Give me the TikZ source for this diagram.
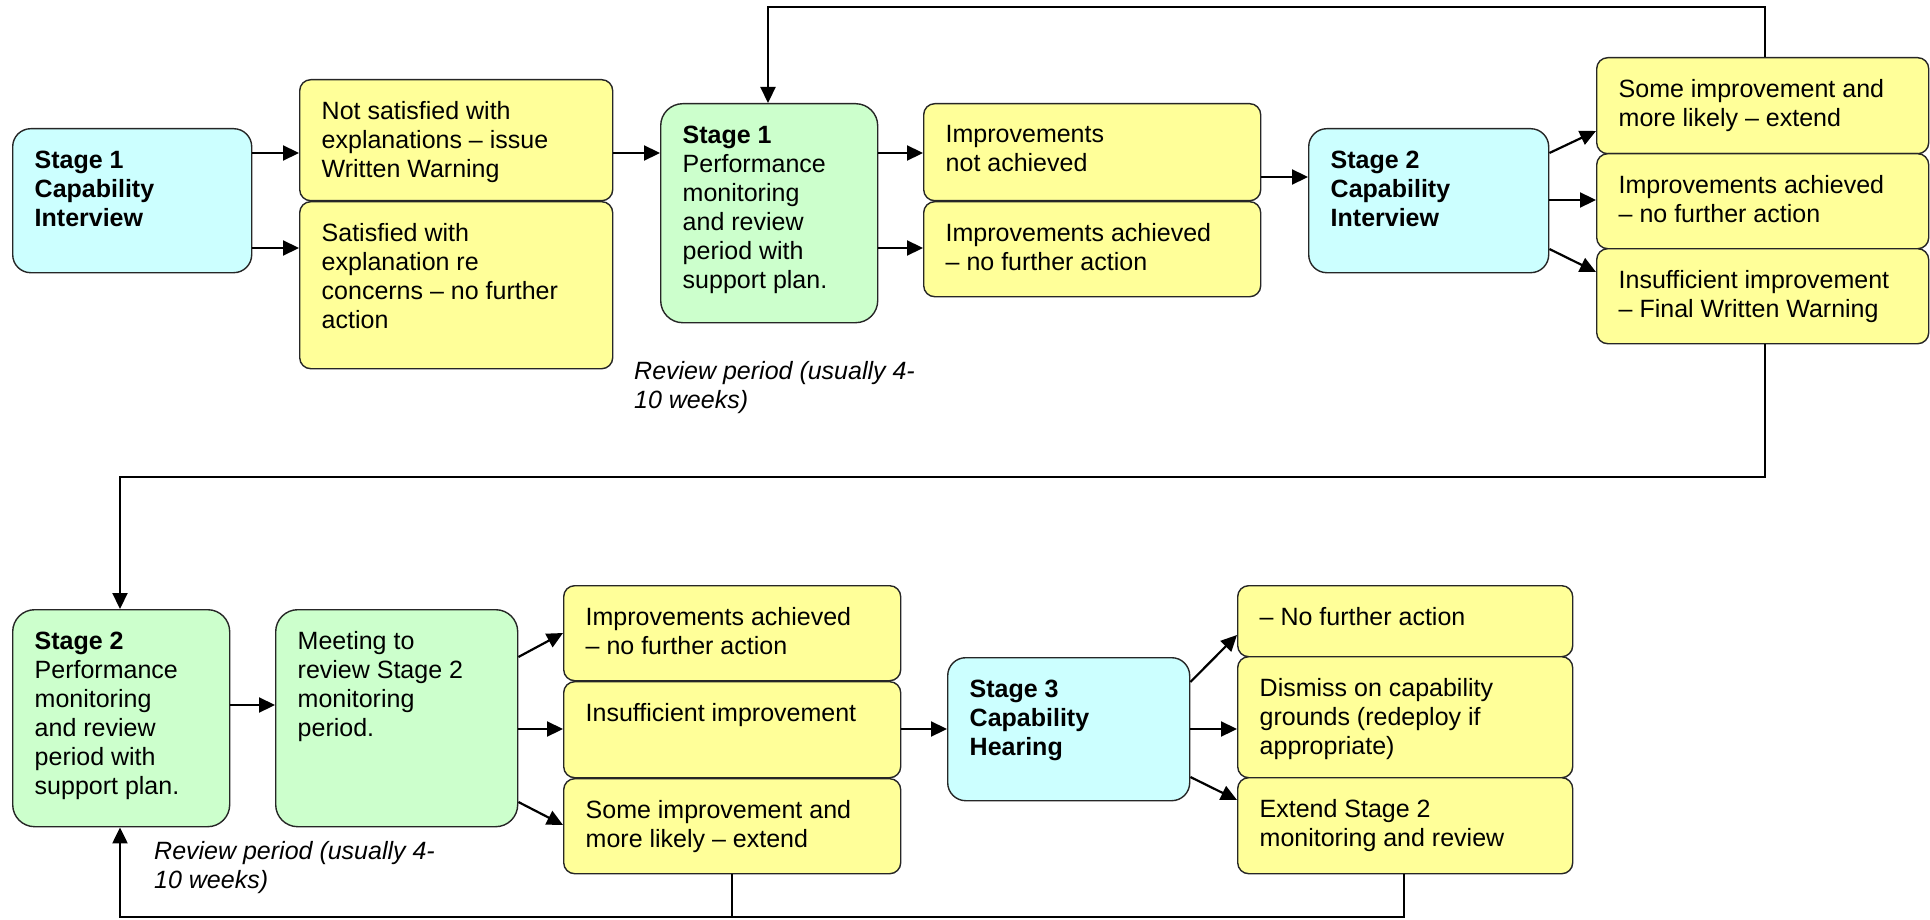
\documentclass[tikz,border=0pt]{standalone}
\usepackage{fontspec}
\setmainfont{Liberation Sans}
\usetikzlibrary{arrows.meta}
\definecolor{cyanbox}{HTML}{CCFFFF}
\definecolor{yellowbox}{HTML}{FFFF99}
\definecolor{greenbox}{HTML}{CCFFCC}
\newcommand{\cellbox}[3]{\parbox[t][\dimexpr#2-44pt\relax][t]{\dimexpr#1-44pt\relax}{\raggedright#3}}

\begin{document}
\begin{tikzpicture}[x=1pt, y=-1pt,
    cell/.style={draw=black!85, line width=1.4pt, anchor=north west, inner xsep=22pt, inner ysep=22pt, font=\fontsize{25}{29}\selectfont},
    interview/.style={cell, fill=cyanbox, rounded corners=18pt},
    outcome/.style={cell, fill=yellowbox, rounded corners=11pt},
    monitor/.style={cell, fill=greenbox, rounded corners=22pt},
    note/.style={anchor=north west, inner sep=0pt, align=left, font=\fontsize{25}{29}\selectfont\itshape},
    flow/.style={line width=2.2pt, -{Triangle[length=16pt,width=15pt]}},
    link/.style={line width=2.2pt},
  ]
  \useasboundingbox (0,0) rectangle (1930,920);

  % top row
  \node (capA)    [interview] at (12,128)   {\cellbox{239pt}{144pt}{\bfseries Stage 1\\Capability\\Interview}};
  \node (notsat)  [outcome]   at (299,79)   {\cellbox{313pt}{121pt}{Not satisfied with\\explanations – issue\\Written Warning}};
  \node (sat)     [outcome]   at (299,201)  {\cellbox{313pt}{167pt}{Satisfied with\\explanation re\\concerns – no further\\action}};
  \node (monA)    [monitor]   at (660,103)  {\cellbox{217pt}{219pt}{{\bfseries Stage 1}\\Performance\\monitoring\\and review\\period with\\support plan.}};
  \node (notach)  [outcome]   at (923,103)  {\cellbox{337pt}{97pt}{Improvements\\not achieved}};
  \node (achA)    [outcome]   at (923,201)  {\cellbox{337pt}{95pt}{Improvements achieved\\– no further action}};
  \node (capB)    [interview] at (1308,128) {\cellbox{240pt}{144pt}{\bfseries Stage 2\\Capability\\Interview}};
  \node (someA)   [outcome]   at (1596,57)  {\cellbox{332pt}{96pt}{Some improvement and\\more likely – extend}};
  \node (achB)    [outcome]   at (1596,153) {\cellbox{332pt}{95pt}{Improvements achieved\\– no further action}};
  \node (insuffA) [outcome]   at (1596,248) {\cellbox{332pt}{95pt}{Insufficient improvement\\– Final Written Warning}};
  \node (revA)    [note]      at (634,361)  {Review period (usually 4-\\10 weeks)};

  % bottom row
  \node (monB)    [monitor]   at (12,609)   {\cellbox{217pt}{217pt}{{\bfseries Stage 2}\\Performance\\monitoring\\and review\\period with\\support plan.}};
  \node (meet)    [monitor]   at (275,609)  {\cellbox{242pt}{217pt}{Meeting to\\review Stage 2\\monitoring\\period.}};
  \node (achC)    [outcome]   at (563,585)  {\cellbox{337pt}{95pt}{Improvements achieved\\– no further action}};
  \node (insuffB) [outcome]   at (563,681)  {\cellbox{337pt}{96pt}{Insufficient improvement}};
  \node (someB)   [outcome]   at (563,778)  {\cellbox{337pt}{95pt}{Some improvement and\\more likely – extend}};
  \node (hear)    [interview] at (947,657)  {\cellbox{242pt}{143pt}{\bfseries Stage 3\\Capability\\Hearing}};
  \node (nofur)   [outcome]   at (1237,585) {\cellbox{335pt}{71pt}{– No further action}};
  \node (dismiss) [outcome]   at (1237,656) {\cellbox{335pt}{121pt}{Dismiss on capability\\grounds (redeploy if\\appropriate)}};
  \node (extend)  [outcome]   at (1237,777) {\cellbox{335pt}{96pt}{Extend Stage 2\\monitoring and review}};
  \node (revB)    [note]      at (154,841)  {Review period (usually 4-\\10 weeks)};

  % arrows, top row
  \draw[flow] (capA.east |- 0,153) -- (notsat.west |- 0,153);
  \draw[flow] (capA.east |- 0,248) -- (sat.west |- 0,248);
  \draw[flow] (notsat.east |- 0,153) -- (monA.west |- 0,153);
  \draw[flow] (monA.east |- 0,153) -- (notach.west |- 0,153);
  \draw[flow] (monA.east |- 0,248) -- (achA.west |- 0,248);
  \draw[flow] (notach.east |- 0,177) -- (capB.west |- 0,177);
  \draw[flow] (capB.east |- 0,153) -- (someA.west |- 0,131);
  \draw[flow] (capB.east |- 0,200) -- (achB.west |- 0,200);
  \draw[flow] (capB.east |- 0,249) -- (insuffA.west |- 0,272);

  % arrows, bottom row
  \draw[flow] (monB.east |- 0,705) -- (meet.west |- 0,705);
  \draw[flow] (meet.east |- 0,657) -- (achC.west |- 0,633);
  \draw[flow] (meet.east |- 0,729) -- (insuffB.west |- 0,729);
  \draw[flow] (meet.east |- 0,802) -- (someB.west |- 0,825);
  \draw[flow] (insuffB.east |- 0,729) -- (hear.west |- 0,729);
  \draw[flow] (hear.east |- 0,682) -- (nofur.west |- 0,635);
  \draw[flow] (hear.east |- 0,729) -- (dismiss.west |- 0,729);
  \draw[flow] (hear.east |- 0,777) -- (extend.west |- 0,800);

  % loops back
  \coordinate (topR) at (1765,7);
  \coordinate (topL) at (768,7);
  \draw[flow] (someA.north -| topR) -- (topR) -- (topL) -- (monA.north -| topL);
  \coordinate (midR) at (1765,477);
  \coordinate (midL) at (120,477);
  \draw[flow] (insuffA.south -| midR) -- (midR) -- (midL) -- (monB.north -| midL);
  \coordinate (botR) at (1404,917);
  \coordinate (botM) at (732,917);
  \coordinate (botL) at (120,917);
  \draw[flow] (extend.south -| botR) -- (botR) -- (botL) -- (monB.south -| botL);
  \draw[link] (someB.south -| botM) -- (botM);
\end{tikzpicture}
\end{document}
